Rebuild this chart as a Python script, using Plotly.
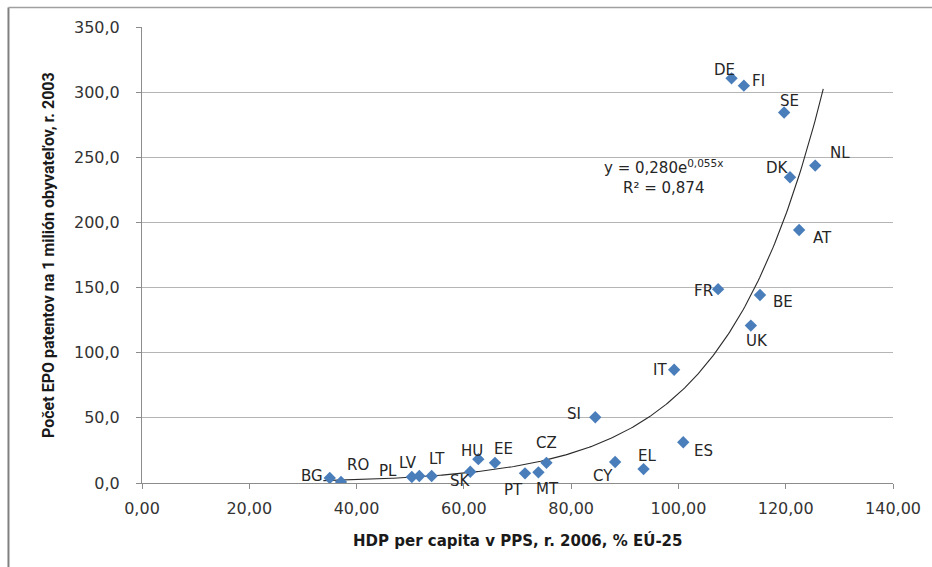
import numpy as np
import plotly.graph_objects as go

# Country codes and their values
countries = ["BG", "RO", "PL", "LV", "LT", "SK", "HU", "EE", "PT", "MT", "CZ", "CY", "EL",
             "ES", "SI", "IT", "FR", "BE", "UK", "AT", "DK", "NL", "SE", "DE", "FI"]
gdp_pps_2006 = [35.0, 37.1, 50.3, 51.7, 54.0, 61.2, 62.7, 65.8, 71.4, 73.9, 75.4, 88.2, 93.5,
                100.9, 84.5, 99.2, 107.4, 115.2, 113.5, 122.5, 120.8, 125.5, 119.7, 109.9, 112.2]
epo_patents_2003 = [3.8, 0.8, 4.6, 5.4, 5.4, 8.6, 18.3, 15.5, 7.4, 8.2, 15.5, 16.1, 10.7,
                    31.3, 50.5, 86.9, 148.8, 144.3, 120.8, 194.2, 234.7, 243.6, 284.4, 310.6, 305.0]

# Exponential trendline y = a * e^(b x) as reported on the chart
trend_a = 0.280
trend_b = 0.055
trend_r2 = 0.874
trend_x_from = 33.8
trend_x_to = 127.0

x_ticks = [0, 20, 40, 60, 80, 100, 120, 140]
x_tick_text = ["0,00", "20,00", "40,00", "60,00", "80,00", "100,00", "120,00", "140,00"]
y_ticks = [0, 50, 100, 150, 200, 250, 300, 350]
y_tick_text = ["0,0", "50,0", "100,0", "150,0", "200,0", "250,0", "300,0", "350,0"]

# Label offsets in pixels (dx, dy up) for each country tag
label_offsets = {
    "BG": (-18, 2), "RO": (17, 17), "PL": (-24, 6), "LV": (-11, 13), "LT": (5, 17),
    "SK": (-10, -9), "HU": (-6, 8), "EE": (9, 14), "PT": (-12, -17), "MT": (9, -17),
    "CZ": (0, 20), "CY": (-12, -14), "EL": (3, 13), "ES": (20, -9), "SI": (-21, 3),
    "IT": (-14, 0), "FR": (-15, -2), "BE": (23, -7), "UK": (6, -15), "AT": (23, -8),
    "DK": (-13, 9), "NL": (25, 13), "SE": (5, 11), "DE": (-7, 8), "FI": (15, 5),
}

tick_font = dict(family="DejaVu Sans", size=16, color="#333333")
axis_grey = "#8c8c8c"

fig = go.Figure()

trend_x = np.linspace(trend_x_from, trend_x_to, 300)
fig.add_trace(go.Scatter(
    x=trend_x, y=trend_a * np.exp(trend_b * trend_x),
    mode="lines", line=dict(color="#2b2b2b", width=1.1),
    hoverinfo="skip", showlegend=False,
))

fig.add_trace(go.Scatter(
    x=gdp_pps_2006, y=epo_patents_2003, mode="markers",
    marker=dict(symbol="diamond", size=9.5, color="#4a7ebb"),
    text=countries, showlegend=False,
))

annotations = []
for c, xv, yv in zip(countries, gdp_pps_2006, epo_patents_2003):
    dx, dy = label_offsets[c]
    annotations.append(dict(
        x=xv, y=yv, text=c, showarrow=False, xshift=dx, yshift=dy,
        font=dict(family="DejaVu Sans", size=15, color="#262626"),
    ))

annotations.append(dict(
    x=97.3, y=235, xref="x", yref="y", showarrow=False, align="center",
    text=("y = " + f"{trend_a:.3f}".replace(".", ",") + "e<sup>" +
          f"{trend_b:.3f}".replace(".", ",") + "x</sup><br>R² = " +
          f"{trend_r2:.3f}".replace(".", ",")),
    font=dict(family="DejaVu Sans", size=15, color="#262626"),
))

annotations.append(dict(
    x=0.5, y=-0.127, xref="paper", yref="paper", showarrow=False,
    xanchor="center", yanchor="middle",
    text="<b>HDP per capita v PPS, r. 2006, % EÚ-25</b>",
    font=dict(family="DejaVu Sans", size=15, color="#1a1a1a"),
))
annotations.append(dict(
    x=-0.1252, y=0.5, xref="paper", yref="paper", showarrow=False, textangle=-90,
    xanchor="center", yanchor="middle",
    text="<b>Počet EPO patentov na 1 milión obyvateľov, r. 2003</b>",
    font=dict(family="Liberation Sans Narrow, Roboto, sans-serif", size=16, color="#1a1a1a"),
))

fig.update_layout(
    width=932, height=567,
    margin=dict(l=142, r=39, t=27, b=84),
    paper_bgcolor="white", plot_bgcolor="white",
    annotations=annotations,
    shapes=[
        dict(type="line", xref="paper", yref="paper", x0=-0.1778, x1=-0.1778,
             y0=-0.2, y1=1.0428, line=dict(color="#808080", width=2)),
        dict(type="line", xref="paper", yref="paper", x0=-0.1778, x1=1.06,
             y0=1.0428, y1=1.0428, line=dict(color="#a0a0a0", width=1.5)),
    ],
    xaxis=dict(
        range=[0, 140], tickvals=x_ticks, ticktext=x_tick_text, tickfont=tick_font,
        showgrid=False, zeroline=False, showline=True, linecolor=axis_grey, linewidth=1,
        ticks="outside", ticklen=5, tickcolor=axis_grey, ticklabelstandoff=6,
    ),
    yaxis=dict(
        range=[0, 350], tickvals=y_ticks, ticktext=y_tick_text, tickfont=tick_font,
        showgrid=True, gridcolor="#b5b5b5", gridwidth=1, zeroline=False,
        showline=True, linecolor=axis_grey, linewidth=1,
        ticks="outside", ticklen=5, tickcolor=axis_grey, ticklabelstandoff=13,
    ),
)

fig.write_html("out.html")
